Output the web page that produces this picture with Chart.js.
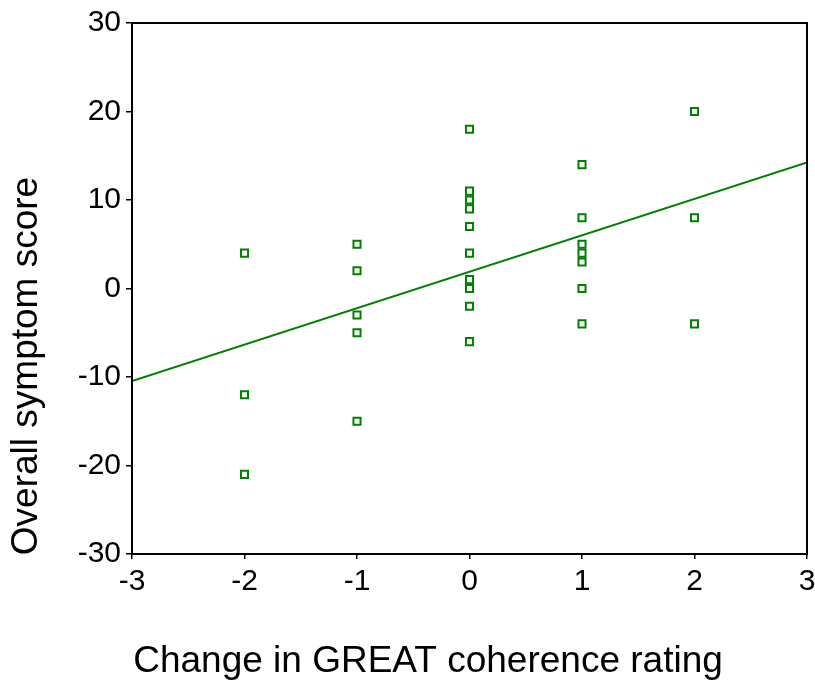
<!DOCTYPE html>
<html>
<head>
<meta charset="utf-8">
<script src="https://cdn.jsdelivr.net/npm/chart.js@4"></script>
<style>
  html, body { margin: 0; padding: 0; background: #fff; }
  #wrap { width: 815px; height: 684px; }
</style>
</head>
<body>
<div id="wrap"><canvas id="scatter" width="815" height="684"></canvas></div>
<script>
// change in GREAT coherence rating (x) vs overall symptom score (y)
const coherenceChange = [
  -2, -2, -2,
  -1, -1, -1, -1, -1,
  0, 0, 0, 0, 0, 0, 0, 0, 0, 0,
  1, 1, 1, 1, 1, 1, 1,
  2, 2, 2
];
const symptomScore = [
  4, -12, -21,
  5, 2, -3, -5, -15,
  18, 11, 10, 9, 7, 4, 1, 0, -2, -6,
  14, 8, 5, 4, 3, 0, -4,
  20, 8, -4
];
const xTicks = [-3, -2, -1, 0, 1, 2, 3];
const yTicks = [-30, -20, -10, 0, 10, 20, 30];

const green = '#008000';
const fontFam = '"Liberation Sans", Arial, sans-serif';

// least squares fit line across the x range
function fitLine(xs, ys) {
  const n = xs.length;
  const mx = xs.reduce((a, b) => a + b, 0) / n;
  const my = ys.reduce((a, b) => a + b, 0) / n;
  let sxy = 0, sxx = 0;
  for (let i = 0; i < n; i++) {
    sxy += (xs[i] - mx) * (ys[i] - my);
    sxx += (xs[i] - mx) * (xs[i] - mx);
  }
  const slope = sxy / sxx;
  const icpt = my - slope * mx;
  const x0 = xTicks[0], x1 = xTicks[xTicks.length - 1];
  return [{ x: x0, y: icpt + slope * x0 }, { x: x1, y: icpt + slope * x1 }];
}

const points = coherenceChange.map((x, i) => ({ x: x, y: symptomScore[i] }));

const frameAndTitles = {
  id: 'frameAndTitles',
  afterDraw(chart) {
    const { ctx, chartArea: a } = chart;
    ctx.save();
    ctx.strokeStyle = '#000';
    ctx.lineWidth = 2;
    ctx.strokeRect(a.left, a.top, a.right - a.left, a.bottom - a.top);

    ctx.fillStyle = '#000';
    ctx.font = '37px ' + fontFam;
    ctx.textAlign = 'center';
    ctx.textBaseline = 'middle';
    ctx.fillText('Change in GREAT coherence rating', 428, 662);

    ctx.translate(27, 366);
    ctx.rotate(-Math.PI / 2);
    ctx.fillText('Overall symptom score', 0, 0);
    ctx.restore();
  }
};

new Chart(document.getElementById('scatter'), {
  type: 'scatter',
  data: {
    datasets: [
      {
        data: points,
        pointStyle: 'rect',
        pointRadius: 5,
        pointHoverRadius: 5,
        borderColor: green,
        backgroundColor: 'rgba(0,0,0,0)',
        borderWidth: 2
      },
      {
        type: 'line',
        data: fitLine(coherenceChange, symptomScore),
        borderColor: green,
        borderWidth: 2,
        pointRadius: 0,
        fill: false
      }
    ]
  },
  plugins: [frameAndTitles],
  options: {
    responsive: false,
    animation: false,
    layout: { padding: { left: 0, top: 23, right: 8, bottom: 0 } },
    plugins: {
      legend: { display: false },
      tooltip: { enabled: false }
    },
    scales: {
      x: {
        type: 'linear',
        min: -3,
        max: 3,
        afterBuildTicks: s => { s.ticks = xTicks.map(v => ({ value: v })); },
        afterFit: s => { s.height = 130; s.paddingRight = 0; s.paddingLeft = 0; },
        grid: { drawOnChartArea: false, drawTicks: true, tickLength: 5, color: '#000', lineWidth: 1.5 },
        border: { display: true, color: '#000', width: 2 },
        ticks: {
          color: '#000',
          padding: 5,
          font: { family: fontFam, size: 30 }
        }
      },
      y: {
        min: -30,
        max: 30,
        afterBuildTicks: s => { s.ticks = yTicks.map(v => ({ value: v })); },
        afterFit: s => { s.width = 132; },
        grid: { drawOnChartArea: false, drawTicks: true, tickLength: 6, color: '#000', lineWidth: 1.5 },
        border: { display: true, color: '#000', width: 2 },
        ticks: {
          color: '#000',
          padding: 5,
          font: { family: fontFam, size: 30 }
        }
      }
    }
  }
});
</script>
</body>
</html>
